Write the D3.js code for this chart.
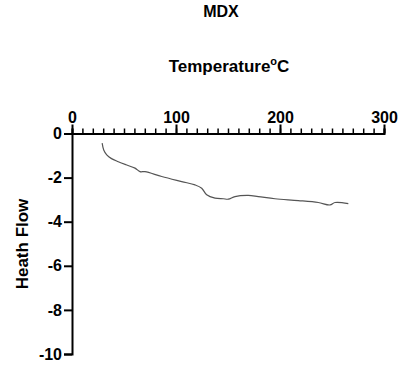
<!DOCTYPE html>
<html>
<head>
<meta charset="utf-8">
<script src="https://cdn.jsdelivr.net/npm/d3@7"></script>
<style>
  body { margin: 0; background: #fff; }
  text { font-family: "Liberation Sans", Arial, sans-serif; font-weight: bold; }
</style>
</head>
<body>
<div id="chart"></div>
<script>
// data
const temperature = [29, 30.5, 33.4, 38, 44.5, 52, 60.6, 65.4, 70.2, 86.3, 105.5, 118.3, 124.7, 129.5, 137.5, 145.5,
                     150.3, 156.7, 169.5, 179.1, 195.2, 217.6, 236.8, 248.1, 252.9, 265.7];
const heatFlow = [-0.44, -0.75, -0.97, -1.14, -1.28, -1.42, -1.57, -1.73, -1.73, -1.95, -2.18, -2.33, -2.48, -2.78, -2.93, -2.96,
                  -2.98, -2.86, -2.81, -2.86, -2.96, -3.04, -3.13, -3.24, -3.13, -3.18];
const xMajor = [0, 100, 200, 300];
const yTicks = [0, -2, -4, -6, -8, -10];

const data = temperature.map((t, i) => ({ t, v: heatFlow[i] }));

const width = 408, height = 369;
const svg = d3.select("#chart").append("svg")
  .attr("width", width)
  .attr("height", height);

const x = d3.scaleLinear().domain([0, 300]).range([72, 384]);
const y = d3.scaleLinear().domain([0, -10]).range([133.5, 354]);

// x axis (on top, ticks upward)
const xAxis = svg.append("g")
  .attr("transform", `translate(0,${y(0)})`)
  .call(d3.axisTop(x).tickValues(d3.range(0, 301, 10)).tickSize(5).tickFormat(""));
xAxis.select(".domain").attr("stroke-width", 2);
xAxis.selectAll(".tick line").attr("stroke-width", 1.5);

const xMaj = svg.append("g")
  .attr("transform", `translate(0,${y(0)})`)
  .call(d3.axisTop(x).tickValues(xMajor).tickSize(9).tickPadding(2).tickFormat(d => String(d)));
xMaj.select(".domain").remove();
xMaj.selectAll(".tick line").attr("stroke-width", 2);
xMaj.selectAll(".tick text").attr("font-size", 16).attr("fill", "#000");

// y axis
const yAxis = svg.append("g")
  .attr("transform", `translate(${x(0)},0)`)
  .call(d3.axisLeft(y).tickValues(yTicks).tickSize(8).tickPadding(2).tickFormat(d => String(d)));
yAxis.select(".domain").attr("stroke-width", 2);
yAxis.selectAll(".tick line").attr("stroke-width", 2);
yAxis.selectAll(".tick text").attr("font-size", 16).attr("fill", "#000");

// line
const line = d3.line()
  .x(d => x(d.t))
  .y(d => y(d.v))
  .curve(d3.curveCatmullRom);

svg.append("path")
  .datum(data)
  .attr("fill", "none")
  .attr("stroke", "#555")
  .attr("stroke-width", 1.2)
  .attr("d", line);

// titles
svg.append("text")
  .attr("x", 221).attr("y", 17)
  .attr("text-anchor", "middle")
  .attr("font-size", 16)
  .text("MDX");

const xt = svg.append("text")
  .attr("x", 229).attr("y", 72)
  .attr("text-anchor", "middle")
  .attr("font-size", 17);
xt.append("tspan").text("Temperature");
xt.append("tspan").attr("font-size", 11).attr("dy", -7).text("o");
xt.append("tspan").attr("dy", 7).text("C");

svg.append("text")
  .attr("transform", "translate(28,244) rotate(-90)")
  .attr("text-anchor", "middle")
  .attr("font-size", 17)
  .text("Heath Flow");
</script>
</body>
</html>
